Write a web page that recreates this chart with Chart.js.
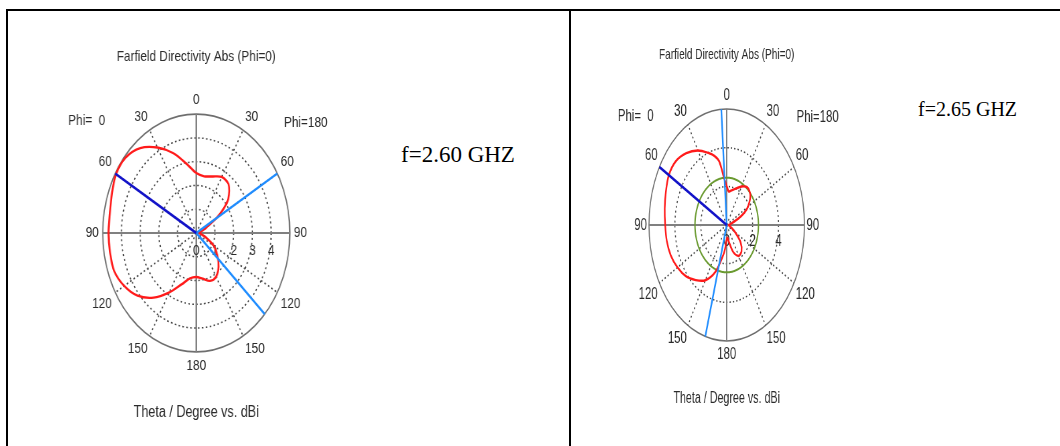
<!DOCTYPE html>
<html>
<head>
<meta charset="utf-8">
<script src="https://cdn.jsdelivr.net/npm/chart.js@4.4.1/dist/chart.umd.min.js"></script>
<style>
  html, body { margin: 0; padding: 0; background: #fff; }
  body { width: 1060px; height: 446px; position: relative; overflow: hidden; }
  .rule { position: absolute; background: #000; }
  .plot { position: absolute; top: 20px; transform-origin: 0 0; }
  .freq { position: absolute; font-family: 'Liberation Serif', 'Times New Roman', serif; color: #000; white-space: nowrap; line-height: 1; }
</style>
</head>
<body>
<div class="rule" style="left:6px;top:9px;width:1054px;height:2px"></div>
<div class="rule" style="left:6px;top:9px;width:2px;height:437px"></div>
<div class="rule" style="left:569px;top:9px;width:2px;height:437px"></div>

<div class="plot" style="left:31px;transform:scaleX(0.787)">
  <canvas id="chart-left" width="420" height="407" style="width:420px;height:407px"></canvas>
</div>
<div class="freq" style="left:401px;top:143px;font-size:23px">f=2.60 GHZ</div>

<div class="plot" style="left:586px;transform:scaleX(0.67)">
  <canvas id="chart-right" width="420" height="393" style="width:420px;height:393px"></canvas>
</div>
<div class="freq" style="left:918px;top:99px;font-size:20px">f=2.65 GHZ</div>

<script>
// theta labels every 30 deg, clockwise from the top (right half Phi=180, left half Phi=0)
const thetaTickLabels = ['0', '30', '60', '90', '120', '150', '180', '150', '120', '90', '60', '30'];

// f = 2.60 GHz : directivity (dBi), angle clockwise from top
const leftAngles = [0, 10, 20, 30, 40, 50, 55, 60, 65, 70, 80, 90, 100, 110, 120, 130, 140, 150, 160, 170,
    180, 190, 200, 210, 220, 230, 240, 250, 260, 270, 280, 290, 300, 310, 320, 330, 340, 350];
const leftGain = [2.52, 2.42, 2.53, 2.72, 2.68, 2.23, 1.78, 1.23, 0.65, 0.45, 0.2, 0.15, 0.25, 0.55, 1.08, 1.47, 1.85, 2.12, 2.14, 1.95,
    1.85, 1.94, 2.3, 2.88, 3.55, 4.1, 4.45, 4.67, 4.68, 4.69, 4.69, 4.8, 4.95, 4.93, 4.66, 4.15, 3.57, 2.95];
const leftMainLobe = [300];
const leftBeamEdges = [60, 133];
const leftRTicks = [0, 1, 2, 3, 4];

// f = 2.65 GHz
const rightAngles = [0, 5, 10, 20, 30, 40, 50, 60, 65, 70, 80, 90, 100, 110, 120, 130, 140, 150, 160, 170,
    175, 180, 186, 190, 200, 210, 220, 230, 240, 250, 260, 270, 280, 290, 300, 310, 320, 330, 340, 345, 350, 355];
const rightGain = [2.03, 1.74, 1.8, 2.0, 2.3, 2.52, 2.38, 1.9, 1.5, 0.92, 0.3, 0.15, 0.2, 0.35, 0.75, 1.4, 1.78, 1.84, 1.5, 0.85,
    0.65, 0.75, 1.25, 1.6, 2.6, 3.3, 3.72, 4.12, 4.39, 4.6, 4.7, 4.75, 4.86, 5.0, 5.16, 5.13, 4.85, 4.45, 3.95, 3.7, 3.35, 2.45];
const rightMainLobe = [300];
const rightBeamEdges = [356, 196];
const rightGreenLevel = 2.45;
const rightRTicks = [0, 2, 4];

const angleLabels = Array.from({ length: 360 }, (_, i) => i);

Chart.defaults.font.family = "'Liberation Sans', Arial, sans-serif";
Chart.defaults.color = '#2b2b2b';

function toRadar(angles, values) {
    const data = new Array(360).fill(null);
    angles.forEach((a, i) => { data[a] = values[i]; });
    return data;
}

// radial spokes: edge point at the angle, next slot at the centre
function toSpokes(angles, rMax) {
    const data = new Array(360).fill(null);
    angles.forEach(a => {
        data[a] = rMax;
        data[(a + 1) % 360] = 0;
    });
    return data;
}

const polarExtras = {
    id: 'polarExtras',
    beforeDatasetsDraw(chart, args, opts) {
        const r = chart.scales.r;
        const ctx = chart.ctx;
        ctx.save();
        ctx.font = `${opts.size}px 'Liberation Sans', Arial, sans-serif`;
        ctx.fillStyle = '#2b2b2b';
        ctx.textAlign = 'center';
        ctx.textBaseline = 'middle';
        opts.rTicks.forEach(v => {
            const p = r.getPointPosition(90, r.getDistanceFromCenterForValue(v));
            ctx.fillText(String(v), p.x, p.y + opts.tickDy);
        });
        ctx.fillText('Phi=  0', r.xCenter - 1.17 * r.drawingArea, r.yCenter - 0.94 * r.drawingArea);
        ctx.fillText('Phi=180', r.xCenter + 1.17 * r.drawingArea, r.yCenter - 0.93 * r.drawingArea);
        ctx.restore();
    }
};

function drawPolar(canvasId, cfg) {
    const canvas = document.getElementById(canvasId);
    if (!canvas) {
        console.warn('Canvas not found: ' + canvasId);
        return;
    }

    const datasets = [
        {
            data: toSpokes(cfg.mainLobe, cfg.rMax),
            borderColor: '#1212c8',
            borderWidth: 2.6,
            tension: 0
        },
        {
            data: toSpokes(cfg.beamEdges, cfg.rMax),
            borderColor: '#1e8cff',
            borderWidth: 2.4,
            tension: 0
        },
        {
            data: toRadar(cfg.angles, cfg.gain),
            borderColor: '#ff1a1a',
            borderWidth: 2.4,
            tension: 0.3
        }
    ];
    if (cfg.greenLevel) {
        datasets.push({
            data: angleLabels.map(() => cfg.greenLevel),
            borderColor: '#6a9a30',
            borderWidth: 2,
            tension: 0
        });
    }
    datasets.forEach(ds => {
        ds.fill = false;
        ds.spanGaps = true;
        ds.pointRadius = 0;
    });

    new Chart(canvas.getContext('2d'), {
        type: 'radar',
        data: { labels: angleLabels, datasets: datasets },
        options: {
            responsive: false,
            animation: false,
            events: [],
            layout: { padding: 0 },
            plugins: {
                legend: { display: false },
                tooltip: { enabled: false },
                title: {
                    display: true,
                    text: 'Farfield Directivity Abs (Phi=0)',
                    font: { size: 15, weight: 'normal' },
                    color: '#2b2b2b',
                    padding: { top: cfg.titleTop, bottom: cfg.titleBottom }
                },
                subtitle: {
                    display: true,
                    position: 'bottom',
                    text: 'Theta / Degree vs. dBi',
                    font: { size: 16, weight: 'normal' },
                    color: '#2b2b2b',
                    padding: { top: cfg.subTop, bottom: 5 }
                },
                polarExtras: { rTicks: cfg.rTicks, size: cfg.labelSize, tickDy: cfg.tickDy }
            },
            scales: {
                r: {
                    min: 0,
                    max: cfg.rMax,
                    ticks: { display: false, stepSize: cfg.step },
                    grid: {
                        circular: true,
                        color: (c) => c.tick && c.tick.value === cfg.rMax ? '#6e6e6e' : '#444',
                        lineWidth: (c) => c.tick && c.tick.value === cfg.rMax ? 1.6 : 1.5
                    },
                    border: {
                        dash: (c) => c.tick && c.tick.value === cfg.rMax ? [] : [2, 3]
                    },
                    angleLines: {
                        color: (c) => c.index % 90 === 0 ? '#808080' : '#444',
                        lineWidth: (c) => c.index % 90 === 0 ? 2 : (c.index % 30 === 0 ? 1.5 : 0),
                        borderDash: (c) => c.index % 90 === 0 ? [] : [2, 3]
                    },
                    pointLabels: {
                        font: { size: cfg.labelSize },
                        color: '#2b2b2b',
                        padding: cfg.labelPad,
                        callback: (value, index) => index % 30 === 0 ? thetaTickLabels[index / 30] : ''
                    }
                }
            }
        },
        plugins: [polarExtras]
    });
}

drawPolar('chart-left', {
    angles: leftAngles, gain: leftGain, mainLobe: leftMainLobe, beamEdges: leftBeamEdges,
    rTicks: leftRTicks, rMax: 5, step: 1,
    labelSize: 15, labelPad: 5, tickDy: 18,
    titleTop: 28, titleBottom: 25.1, subTop: 26.1
});

drawPolar('chart-right', {
    angles: rightAngles, gain: rightGain, mainLobe: rightMainLobe, beamEdges: rightBeamEdges,
    greenLevel: rightGreenLevel, rTicks: rightRTicks, rMax: 6, step: 2,
    labelSize: 17, labelPad: 3, tickDy: 16,
    titleTop: 26, titleBottom: 21.6, subTop: 23
});
</script>
</body>
</html>
